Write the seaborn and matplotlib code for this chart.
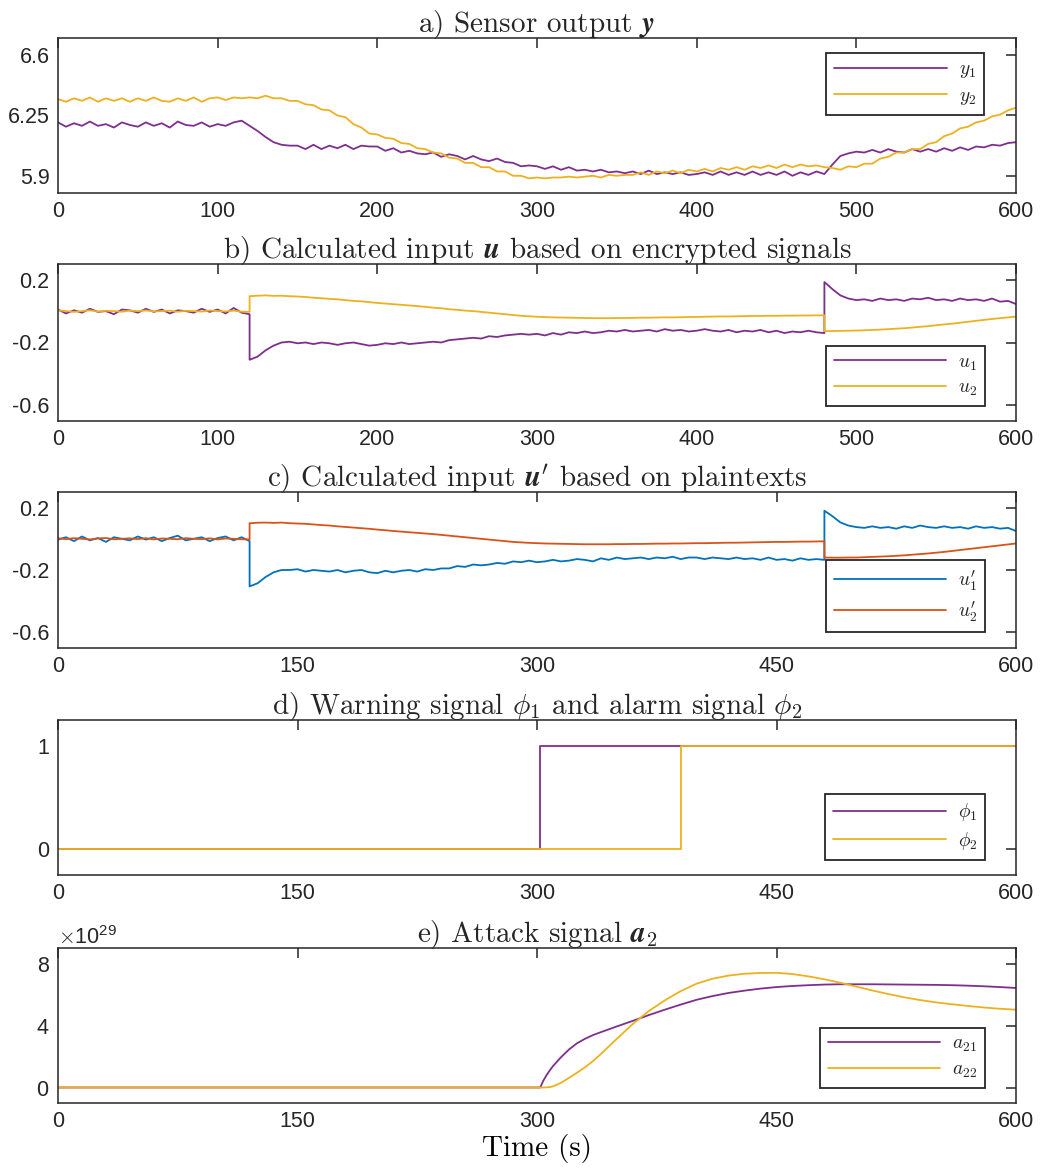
import numpy as np
import pandas as pd
import matplotlib
matplotlib.use("Agg")
import matplotlib.pyplot as plt
import seaborn as sns
from matplotlib.ticker import ScalarFormatter

# ---------------- data ----------------
t_y = np.arange(0, 601, 5)
y1 = [6.21, 6.185, 6.205, 6.19, 6.215, 6.19, 6.20, 6.18, 6.21, 6.195,
      6.185, 6.21, 6.19, 6.205, 6.18, 6.215, 6.195, 6.19, 6.21, 6.185,
      6.20, 6.19, 6.21, 6.22, 6.19, 6.16, 6.125, 6.095, 6.08, 6.075,
      6.075, 6.055, 6.08, 6.055, 6.075, 6.06, 6.08, 6.055, 6.075, 6.07,
      6.07, 6.045, 6.06, 6.035, 6.045, 6.03, 6.025, 6.035, 6.01, 6.025,
      6.015, 5.995, 6.015, 5.995, 5.985, 6.00, 5.98, 5.975, 5.955, 5.96,
      5.955, 5.94, 5.955, 5.935, 5.95, 5.93, 5.935, 5.925, 5.935, 5.92,
      5.925, 5.915, 5.925, 5.91, 5.93, 5.91, 5.92, 5.91, 5.92, 5.905,
      5.91, 5.92, 5.905, 5.925, 5.905, 5.92, 5.905, 5.925, 5.905, 5.92,
      5.905, 5.925, 5.90, 5.92, 5.905, 5.925, 5.91, 5.965, 6.015, 6.03,
      6.04, 6.035, 6.05, 6.035, 6.055, 6.04, 6.035, 6.055, 6.04, 6.055,
      6.04, 6.06, 6.045, 6.065, 6.05, 6.07, 6.065, 6.08, 6.075, 6.09,
      6.095]
y2 = [6.345, 6.33, 6.35, 6.335, 6.355, 6.33, 6.35, 6.335, 6.35, 6.33,
      6.35, 6.335, 6.355, 6.335, 6.33, 6.35, 6.335, 6.355, 6.33, 6.35,
      6.355, 6.34, 6.355, 6.35, 6.355, 6.35, 6.365, 6.35, 6.35, 6.335,
      6.335, 6.315, 6.31, 6.285, 6.28, 6.25, 6.24, 6.20, 6.18, 6.145,
      6.14, 6.12, 6.115, 6.09, 6.085, 6.06, 6.055, 6.035, 6.03, 6.005,
      6.0, 5.975, 5.975, 5.95, 5.95, 5.925, 5.925, 5.90, 5.90, 5.885,
      5.89, 5.885, 5.89, 5.89, 5.895, 5.89, 5.895, 5.90, 5.89, 5.905,
      5.90, 5.905, 5.905, 5.92, 5.905, 5.925, 5.915, 5.93, 5.915, 5.935,
      5.925, 5.94, 5.925, 5.945, 5.935, 5.95, 5.935, 5.955, 5.945, 5.96,
      5.945, 5.965, 5.95, 5.965, 5.955, 5.96, 5.95, 5.945, 5.935, 5.955,
      5.95, 5.97, 5.97, 6.0, 6.01, 6.035, 6.035, 6.055, 6.055, 6.085,
      6.095, 6.13, 6.145, 6.175, 6.185, 6.21, 6.22, 6.245, 6.255, 6.28,
      6.295]

# input signals: three segments (0-120 s, 120-480 s, 480-600 s)
t_seg1 = np.arange(0, 121, 5)
t_seg2 = np.arange(120, 481, 5)
t_seg3 = np.arange(480, 601, 5)

u1_seg1 = [0.01, -0.015, 0.005, -0.01, 0.015, -0.005, 0.0, -0.02, 0.01, 0.005,
           -0.01, 0.015, -0.005, 0.01, -0.015, 0.005, 0.0, -0.01, 0.015, -0.005,
           0.01, -0.015, 0.02, -0.01, -0.02]
u1_seg2 = [-0.31, -0.29, -0.25, -0.22, -0.20, -0.195, -0.205, -0.20, -0.21, -0.20,
           -0.205, -0.215, -0.205, -0.20, -0.21, -0.22, -0.215, -0.205, -0.21, -0.20,
           -0.21, -0.205, -0.20, -0.195, -0.20, -0.185, -0.18, -0.175, -0.17, -0.175,
           -0.16, -0.165, -0.155, -0.15, -0.145, -0.15, -0.145, -0.155, -0.14, -0.15,
           -0.135, -0.14, -0.13, -0.14, -0.135, -0.125, -0.13, -0.12, -0.13, -0.125,
           -0.12, -0.13, -0.115, -0.125, -0.12, -0.13, -0.125, -0.115, -0.125, -0.13,
           -0.12, -0.135, -0.125, -0.13, -0.12, -0.135, -0.125, -0.14, -0.13, -0.135,
           -0.125, -0.135, -0.14]
u1_seg3 = [0.185, 0.14, 0.10, 0.08, 0.07, 0.075, 0.065, 0.08, 0.07, 0.075,
           0.065, 0.08, 0.075, 0.085, 0.07, 0.075, 0.065, 0.08, 0.07, 0.075,
           0.065, 0.08, 0.06, 0.065, 0.045]
u2_seg1 = [0.005, 0.0, -0.005, 0.0, 0.005, -0.003, 0.002, 0.0, -0.004, 0.003,
           0.0, 0.004, -0.002, 0.0, 0.003, -0.004, 0.002, 0.0, -0.003, 0.004,
           0.0, -0.002, 0.003, -0.004, -0.005]
u2_seg2 = [0.095, 0.098, 0.10, 0.097, 0.098, 0.095, 0.093, 0.09, 0.085, 0.082,
           0.078, 0.075, 0.07, 0.065, 0.062, 0.057, 0.052, 0.048, 0.044, 0.04,
           0.036, 0.032, 0.027, 0.022, 0.018, 0.012, 0.008, 0.003, 0.0, -0.005,
           -0.01, -0.015, -0.02, -0.025, -0.03, -0.033, -0.036, -0.038, -0.04, -0.041,
           -0.042, -0.043, -0.044, -0.045, -0.045, -0.045, -0.044, -0.044, -0.043, -0.042,
           -0.042, -0.041, -0.04, -0.04, -0.039, -0.038, -0.037, -0.036, -0.035, -0.034,
           -0.034, -0.033, -0.032, -0.031, -0.031, -0.03, -0.03, -0.029, -0.029, -0.028,
           -0.028, -0.027, -0.027]
u2_seg3 = [-0.128, -0.127, -0.126, -0.125, -0.124, -0.122, -0.12, -0.118, -0.115, -0.112,
           -0.109, -0.105, -0.10, -0.096, -0.09, -0.085, -0.08, -0.074, -0.068, -0.062,
           -0.056, -0.05, -0.045, -0.04, -0.035]

u1p_seg1 = [-0.005, 0.01, -0.015, 0.015, -0.01, 0.005, -0.02, 0.01, 0.0, -0.01,
            0.015, -0.005, 0.01, -0.015, 0.005, 0.02, -0.01, 0.0, 0.01, -0.015,
            0.005, 0.015, -0.01, 0.01, -0.015]
u1p_seg2 = [-0.305, -0.285, -0.245, -0.215, -0.20, -0.2, -0.195, -0.21, -0.2, -0.205,
            -0.21, -0.2, -0.215, -0.205, -0.2, -0.215, -0.22, -0.205, -0.215, -0.205,
            -0.20, -0.21, -0.195, -0.2, -0.19, -0.19, -0.175, -0.18, -0.165, -0.17,
            -0.165, -0.155, -0.16, -0.145, -0.15, -0.14, -0.15, -0.145, -0.135, -0.145,
            -0.14, -0.13, -0.135, -0.145, -0.125, -0.135, -0.12, -0.13, -0.125, -0.12,
            -0.13, -0.12, -0.125, -0.115, -0.13, -0.12, -0.12, -0.13, -0.12, -0.125,
            -0.13, -0.12, -0.13, -0.125, -0.135, -0.12, -0.135, -0.13, -0.14, -0.125,
            -0.135, -0.13, -0.135]
u1p_seg3 = [0.18, 0.145, 0.105, 0.085, 0.075, 0.07, 0.08, 0.07, 0.075, 0.065,
            0.08, 0.07, 0.085, 0.075, 0.07, 0.08, 0.07, 0.075, 0.065, 0.08,
            0.07, 0.075, 0.065, 0.07, 0.05]
u2p_seg1 = [0.003, -0.002, 0.004, 0.0, -0.004, 0.002, 0.005, -0.003, 0.0, 0.003,
            -0.002, 0.004, -0.004, 0.002, 0.0, -0.003, 0.004, 0.0, -0.002, 0.003,
            -0.004, 0.002, 0.0, -0.003, -0.004]
u2p_seg2 = [0.10, 0.103, 0.104, 0.102, 0.104, 0.1, 0.098, 0.096, 0.092, 0.088,
            0.085, 0.08, 0.076, 0.072, 0.068, 0.064, 0.059, 0.055, 0.05, 0.046,
            0.042, 0.038, 0.034, 0.03, 0.025, 0.02, 0.015, 0.01, 0.005, 0.0,
            -0.005, -0.01, -0.015, -0.02, -0.023, -0.026, -0.028, -0.03, -0.031, -0.032,
            -0.033, -0.034, -0.035, -0.035, -0.035, -0.035, -0.034, -0.034, -0.033, -0.033,
            -0.032, -0.031, -0.031, -0.03, -0.03, -0.029, -0.028, -0.028, -0.027, -0.026,
            -0.025, -0.025, -0.024, -0.023, -0.022, -0.021, -0.02, -0.02, -0.019, -0.018,
            -0.018, -0.017, -0.016]
u2p_seg3 = [-0.12, -0.121, -0.121, -0.12, -0.12, -0.118, -0.116, -0.114, -0.112, -0.109,
            -0.106, -0.102, -0.098, -0.094, -0.089, -0.084, -0.078, -0.072, -0.066, -0.06,
            -0.054, -0.048, -0.042, -0.036, -0.03]

# warning / alarm flags
t_phi = [0, 302, 302, 390, 390, 600]
phi1 = [0, 0, 1, 1, 1, 1]
phi2 = [0, 0, 0, 0, 1, 1]

# attack signal (x 1e29)
t_att = [0, 300, 302, 304, 306, 308, 310, 315, 320, 325, 330, 335, 340, 350, 360,
         370, 380, 390, 400, 410, 420, 430, 440, 450, 460, 470, 480, 490, 500, 510,
         520, 530, 540, 550, 560, 570, 580, 590, 600]
a21 = [0, 0, 0, 0.45, 0.8, 1.1, 1.38, 1.95, 2.45, 2.85, 3.14, 3.38, 3.57, 3.94, 4.3,
       4.67, 5.02, 5.35, 5.66, 5.9, 6.1, 6.25, 6.38, 6.48, 6.55, 6.6, 6.64, 6.66, 6.66,
       6.66, 6.65, 6.64, 6.63, 6.62, 6.6, 6.57, 6.53, 6.48, 6.42]
a22 = [0, 0, 0, 0.0, 0.01, 0.03, 0.07, 0.3, 0.62, 0.95, 1.3, 1.7, 2.16, 3.14, 4.1,
       4.93, 5.62, 6.22, 6.7, 7.02, 7.22, 7.34, 7.39, 7.4, 7.32, 7.17, 6.98, 6.76, 6.51,
       6.26, 6.03, 5.82, 5.64, 5.49, 5.37, 5.26, 5.16, 5.08, 5.02]
att_scale = 1e29

# ---------------- style ----------------
sns.set_style("white")
plt.rcParams.update({
    "font.family": ["Liberation Sans", "DejaVu Sans"],
    "mathtext.fontset": "cm",
    "axes.unicode_minus": False,
    "axes.edgecolor": "#262626",
    "axes.linewidth": 1.1,
})

PURPLE = "#7E2F8E"
YELLOW = "#EDB120"
BLUE = "#0072BD"
ORANGE = "#D95319"
TXT = "#262626"
LW = 1.3
TITLE_FS = 21
TICK_FS = 15.5
LEG_FS = 14

fig = plt.figure(figsize=(10.40, 11.71), dpi=100)
W, H = 1040, 1171
left, right = 58, 1016
tops = [38, 264, 492, 720, 948]
bots = [193, 421, 648, 875, 1103]
axes = [fig.add_axes([left / W, 1 - b / H, (right - left) / W, (b - t) / H])
        for t, b in zip(tops, bots)]


def seg_df(s1, s2, s3):
    return pd.DataFrame({
        "t": np.concatenate([t_seg1, t_seg2, t_seg3]),
        "v": np.concatenate([s1, s2, s3]),
    })


def draw(ax, x, y, color, label):
    sns.lineplot(x=np.asarray(x, float), y=np.asarray(y, float), ax=ax, color=color,
                 lw=LW, label=label, estimator=None, sort=False)


def style(ax, xticks, ylim, yticks):
    ax.set_xlim(0, 600)
    ax.set_ylim(*ylim)
    ax.set_xticks(xticks)
    ax.set_yticks(yticks)
    ax.tick_params(direction="in", length=7, width=1.1, top=True, right=True,
                   labelsize=TICK_FS, colors=TXT, pad=6)
    ax.set_xlabel("")
    ax.set_ylabel("")
    for s in ax.spines.values():
        s.set_color(TXT)
        s.set_linewidth(1.1)


def legend(ax, loc, anchor):
    leg = ax.legend(loc=loc, bbox_to_anchor=anchor, borderaxespad=0, fontsize=LEG_FS,
                    frameon=True, fancybox=False, framealpha=1, edgecolor=TXT,
                    handlelength=5.8, handletextpad=0.6, labelspacing=0.35,
                    borderpad=0.4)
    leg.get_frame().set_linewidth(1.3)


# a) sensor output
ax = axes[0]
draw(ax, t_y, y1, PURPLE, r"$y_1$")
draw(ax, t_y, y2, YELLOW, r"$y_2$")
style(ax, range(0, 601, 100), (5.8, 6.7), [5.9, 6.25, 6.6])
ax.set_yticklabels(["5.9", "6.25", "6.6"])
legend(ax, "upper right", (0.9666, 0.903))
ax.set_title(r"a) Sensor output $\boldsymbol{y}$", fontfamily="cmr10",
             fontsize=TITLE_FS, pad=4)

# b) calculated input u
ax = axes[1]
d1 = seg_df(u1_seg1, u1_seg2, u1_seg3)
d2 = seg_df(u2_seg1, u2_seg2, u2_seg3)
draw(ax, d1.t, d1.v, PURPLE, r"$u_1$")
draw(ax, d2.t, d2.v, YELLOW, r"$u_2$")
style(ax, range(0, 601, 100), (-0.7, 0.3), [-0.6, -0.2, 0.2])
ax.set_yticklabels(["-0.6", "-0.2", "0.2"])
legend(ax, "lower right", (0.9676, 0.0955))
ax.set_title(r"b) Calculated input $\boldsymbol{u}$ based on encrypted signals",
             fontfamily="cmr10", fontsize=TITLE_FS, pad=4)

# c) calculated input u'
ax = axes[2]
d1 = seg_df(u1p_seg1, u1p_seg2, u1p_seg3)
d2 = seg_df(u2p_seg1, u2p_seg2, u2p_seg3)
draw(ax, d1.t, d1.v, BLUE, r"$u^{\prime}_1$")
draw(ax, d2.t, d2.v, ORANGE, r"$u^{\prime}_2$")
style(ax, range(0, 601, 150), (-0.7, 0.3), [-0.6, -0.2, 0.2])
ax.set_yticklabels(["-0.6", "-0.2", "0.2"])
legend(ax, "lower right", (0.9676, 0.1026))
ax.set_title(r"c) Calculated input $\boldsymbol{u}^{\prime}$ based on plaintexts",
             fontfamily="cmr10", fontsize=TITLE_FS, pad=4)

# d) warning / alarm
ax = axes[3]
draw(ax, t_phi, phi1, PURPLE, r"$\phi_1$")
draw(ax, t_phi, phi2, YELLOW, r"$\phi_2$")
style(ax, range(0, 601, 150), (-0.25, 1.25), [0, 1])
ax.set_yticklabels(["0", "1"])
legend(ax, "lower right", (0.9676, 0.097))
ax.set_title(r"d) Warning signal $\phi_1$ and alarm signal $\phi_2$",
             fontfamily="cmr10", fontsize=TITLE_FS, pad=4)

# e) attack signal
ax = axes[4]
draw(ax, t_att, np.asarray(a21) * att_scale, PURPLE, r"$a_{21}$")
draw(ax, t_att, np.asarray(a22) * att_scale, YELLOW, r"$a_{22}$")
style(ax, range(0, 601, 150), (-1 * att_scale, 9 * att_scale),
      [0, 4 * att_scale, 8 * att_scale])
fmt = ScalarFormatter(useMathText=True)
ax.yaxis.set_major_formatter(fmt)
ax.yaxis.get_offset_text().set_fontsize(TICK_FS)
ax.yaxis.get_offset_text().set_color(TXT)
legend(ax, "lower right", (0.9676, 0.097))
ax.set_title(r"e) Attack signal $\boldsymbol{a}_2$", fontfamily="cmr10",
             fontsize=TITLE_FS, pad=4)
ax.set_xlabel("Time (s)", fontfamily="cmr10", fontsize=TITLE_FS, labelpad=1,
              color="black")

fig.savefig("out.png", dpi=100)
